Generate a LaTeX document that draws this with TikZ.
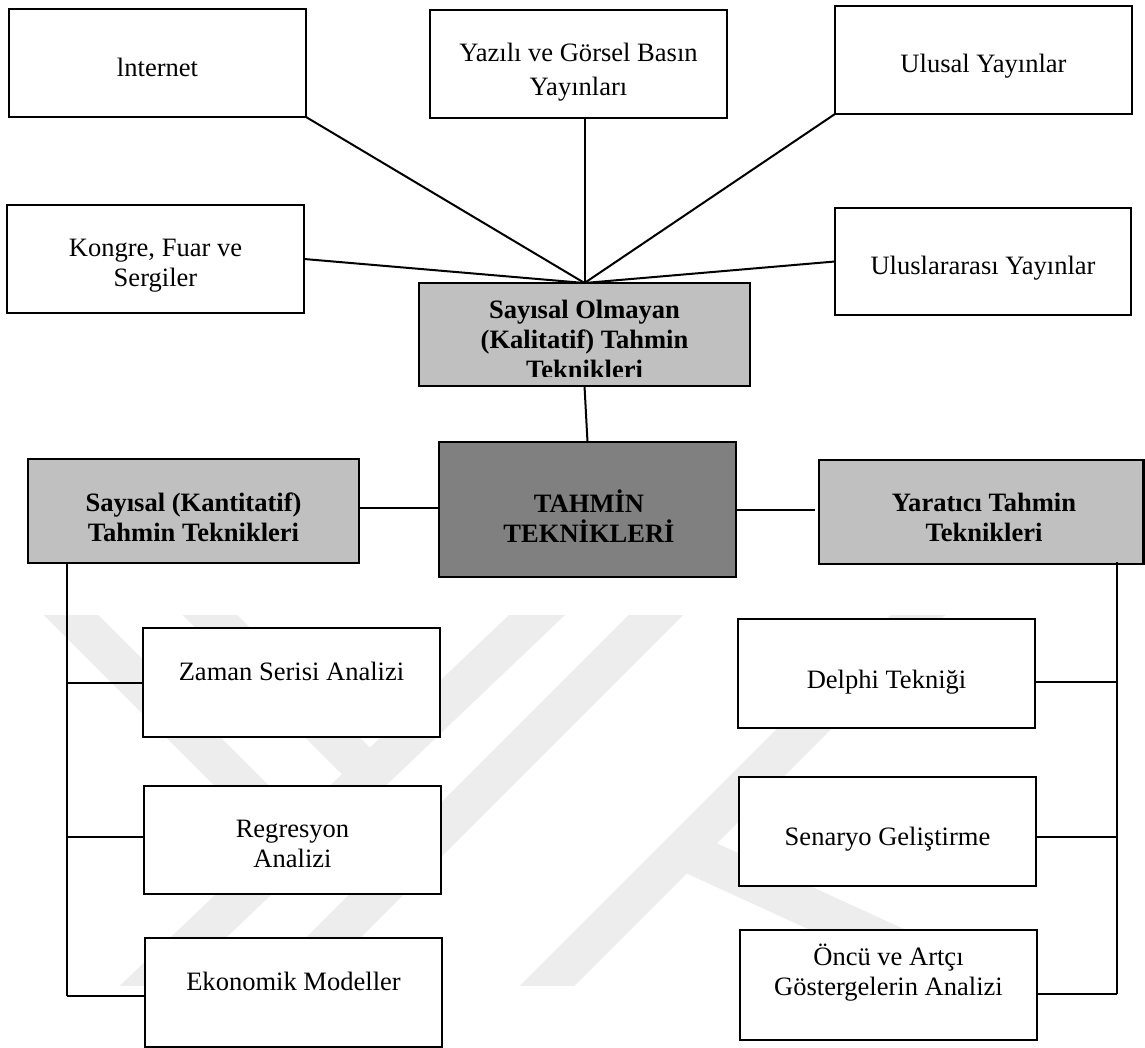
\documentclass[tikz,border=0pt]{standalone}
\usepackage{fontspec}
\setmainfont{Liberation Serif}
\usetikzlibrary{calc}
\definecolor{boxlight}{HTML}{C0C0C0}
\definecolor{boxdark}{HTML}{808080}
\definecolor{wmgray}{HTML}{EDEDED}
% stacked, centred lines whose baselines are exactly \baselineskip apart;
% the first line carries the baseline of the whole block
\newcommand{\mylines}[1]{\vtop{\lineskiplimit=-100pt\lineskip=0pt\halign{\hfil##\hfil\cr#1\crcr}}}
\begin{document}
\begin{tikzpicture}[x=0.75pt,y=-0.75pt,
  box/.style={draw=black, line width=1.6pt, fill=white, inner sep=0pt, outer sep=0pt},
  dims/.style 2 args={minimum width=#1*0.75pt, minimum height=#2*0.75pt},
  light/.style={box, fill=boxlight},
  dark/.style={box, fill=boxdark},
  txt/.style={font=\fontsize{19.9}{22.5}\selectfont, anchor=base, inner sep=0pt, outer sep=0pt},
  btxt/.style={txt, font=\fontsize{19.9}{22.5}\selectfont\bfseries},
  conn/.style={draw=black, line width=1.5pt},
  wm/.style={draw=wmgray, line width=29pt, line cap=butt}]

\useasboundingbox (0,0) rectangle (1145,1048);

% faint background emblem
\begin{scope}
  \clip (30,615) rectangle (1110,985);
  \draw[wm] (51,595) -- (298,842);
  \draw[wm] (190,595) -- (369.5,774.5);
  \draw[wm] (558,595) -- (127.5,1005);
  \draw[wm] (676,595) -- (266,1005);
  \draw[wm] (938,595) -- (528,1005);
  \draw[wm, line width=30pt] (690,853) -- (1000,995);
\end{scope}

% top row of sources
\node[box, dims={297}{108}] (inet) at (157.5,63) {};
\node[box, dims={297}{108}] (yaz)  at (578.5,64) {};
\node[box, dims={297}{108}] (ulu)  at (983.5,60) {};
\node[box, dims={297}{108}] (kon)  at (155.5,259) {};
\node[box, dims={296}{107}] (uint) at (983,261.5) {};

% the three technique groups and the centre
\node[light, dims={331}{103}] (kal) at (584.5,334.5) {};
\node[light, dims={331}{104}] (kan) at (193.5,511) {};
\node[dark,  dims={297}{135}] (tah) at (587.5,509.5) {};
\node[light, dims={324.5}{104}] (yar) at (981.25,512) {};

% quantitative techniques
\node[box, dims={297}{109}] (zam) at (291.5,682.5) {};
\node[box, dims={297}{108}] (reg) at (292.5,840) {};
\node[box, dims={297}{109}] (eko) at (293.5,992.5) {};

% creative techniques
\node[box, dims={297}{109}] (del) at (886.5,673.5) {};
\node[box, dims={297}{109}] (sen) at (887.5,831.5) {};
\node[box, dims={297}{110}] (onc) at (888.5,985) {};

% labels
\node[txt] (inet-t) at (157.5,77) {lnternet};
\node[txt] (yaz-t) at (578.5,62) {\mylines{Yazılı ve Görsel Basın\cr\noalign{\vskip 3pt}Yayınları}};
\node[txt] (ulu-t) at (983.5,73) {Ulusal Yayınlar};
\node[txt] (kon-t) at (155.5,257) {\mylines{Kongre, Fuar ve\cr Sergiler}};
\node[txt] (uint-t) at (983,275) {Uluslararası Yayınlar};
\begin{scope}
  \clip (kal.north west) rectangle ($(kal.south east)+(0,-10)$);
  \node[btxt] (kal-t) at (584.5,319) {\mylines{Sayısal Olmayan\cr (Kalitatif) Tahmin\cr Teknikleri}};
\end{scope}
\node[btxt] (kan-t) at (193.5,511) {\mylines{Sayısal (Kantitatif)\cr Tahmin Teknikleri}};
\node[btxt] (tah-t) at (589,512) {\mylines{TAHMİN\cr TEKNİKLERİ}};
\node[btxt] (yar-t) at (984,511) {\mylines{Yaratıcı Tahmin\cr Teknikleri}};
\node[txt] (zam-t) at (291.5,680) {Zaman Serisi Analizi};
\node[txt] (reg-t) at (292.5,837) {\mylines{Regresyon\cr Analizi}};
\node[txt] (eko-t) at (293.5,990) {Ekonomik Modeller};
\node[txt] (del-t) at (886.5,688) {Delphi Tekniği};
\node[txt] (sen-t) at (887.5,845) {Senaryo Geliştirme};
\node[txt] (onc-t) at (888.5,965) {\mylines{Öncü ve Artçı\cr Göstergelerin Analizi}};

% sources converging on the qualitative group
\draw[conn] (inet.south east) -- (kal.north);
\draw[conn] (kon.east) -- (kal.north);
\draw[conn] (kal.north |- yaz.south) -- (kal.north);
\draw[conn] (ulu.south west) -- (kal.north);
\draw[conn] (uint.west) -- (kal.north);

% groups attached to the centre
\draw[conn] (kal.south) -- (tah.north);
\coordinate (kt) at ($(kan.east)+(0,-3)$);
\draw[conn] (kt) -- (kt -| tah.west);
\draw[conn, shorten >=3pt] (tah.east) -- (tah.east -| yar.west);

% left trunk
\coordinate (ltop) at ($(kan.south west)+(39,0)$);
\coordinate (regb) at ($(reg.west)+(0,-3)$);
\coordinate (ekob) at ($(eko.west)+(0,3.5)$);
\draw[conn] (ltop) -- (ltop |- ekob);
\draw[conn] (ltop |- zam.west) -- (zam.west);
\draw[conn] (ltop |- regb) -- (regb);
\draw[conn] (ltop |- ekob) -- (ekob);

% right trunk
\coordinate (rtop) at ($(yar.south east)+(-26.5,-2)$);
\coordinate (delb) at ($(del.east)+(0,8.5)$);
\coordinate (senb) at ($(sen.east)+(0,5.5)$);
\coordinate (oncb) at ($(onc.east)+(0,9)$);
\draw[conn] (rtop) -- (rtop |- oncb);
\draw[conn] (delb) -- (rtop |- delb);
\draw[conn] (senb) -- (rtop |- senb);
\draw[conn] (oncb) -- (rtop |- oncb);
\end{tikzpicture}
\end{document}
